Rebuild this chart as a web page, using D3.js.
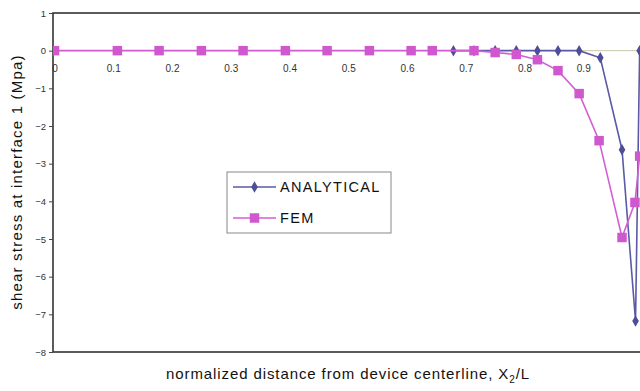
<!DOCTYPE html>
<html><head><meta charset="utf-8">
<script src="https://cdn.jsdelivr.net/npm/d3@7"></script>
<style>
html,body{margin:0;padding:0;background:#fff;}
svg{display:block;font-family:"Liberation Sans",Arial,sans-serif;}
</style></head>
<body><svg id="c" width="640" height="391"></svg>
<script>
// ---- data ----
const xTickLabels = [0, 0.1, 0.2, 0.3, 0.4, 0.5, 0.6, 0.7, 0.8, 0.9];
const yTickValues = [1, 0, -1, -2, -3, -4, -5, -6, -7, -8];
const femX = [0, 0.107, 0.178, 0.25, 0.321, 0.393, 0.464, 0.536, 0.607, 0.643, 0.714, 0.75, 0.786, 0.822, 0.857, 0.893, 0.927, 0.966, 0.988, 0.996];
const femY = [0, 0, 0, 0, 0, 0, 0, 0, 0, 0, 0, -0.05, -0.1, -0.24, -0.53, -1.14, -2.39, -4.96, -4.03, -2.8];
const anaX = [0.679, 0.714, 0.75, 0.786, 0.822, 0.857, 0.893, 0.929, 0.966, 0.989, 0.996];
const anaY = [0, 0, 0, 0, 0, 0, 0, -0.19, -2.63, -7.18, 0];
const seriesNames = ["ANALYTICAL", "FEM"];
const seriesColors = ["#5a5aa6", "#d35ed3"];

(function () {
const svg = d3.select("#c");
const W = 640;
const mL = 53, mT = 13, mB = 352, mR = 700;

const x = d3.scaleLinear().domain([0, 1]).range([54.5, 642]);
const y = d3.scaleLinear().domain([-8, 1]).range([mB, mT]);

// frame
svg.append("rect").attr("x", mL).attr("y", mT).attr("width", mR - mL).attr("height", mB - mT)
  .attr("fill", "#fff").attr("stroke", "#333").attr("stroke-width", 1.6);

// zero axis line
svg.append("line").attr("x1", mL).attr("x2", W).attr("y1", y(0)).attr("y2", y(0))
  .attr("stroke", "#c9c9a8").attr("stroke-width", 1);

// y axis
const ya = svg.append("g").attr("transform", `translate(${mL},0)`)
  .call(d3.axisLeft(y).tickValues(yTickValues).tickSize(4).tickPadding(3).tickFormat(d3.format("d")));
ya.select(".domain").remove();
ya.selectAll("line").attr("stroke", "#444");
ya.selectAll("text").attr("font-size", 9.5).attr("fill", "#333").attr("font-family", "Liberation Sans, Arial, sans-serif");

// x tick labels along zero line
const xa = svg.append("g").attr("transform", `translate(0,${y(0)})`)
  .call(d3.axisBottom(x).tickValues(xTickLabels).tickSize(0).tickPadding(14).tickFormat(d => d === 0 ? "0" : d3.format(".1f")(d)));
xa.select(".domain").remove();
xa.selectAll("text").attr("font-size", 10).attr("fill", "#333").attr("font-family", "Liberation Sans, Arial, sans-serif");

// series
svg.append("clipPath").attr("id", "pc").append("rect")
  .attr("x", mL).attr("y", mT - 6).attr("width", mR - mL).attr("height", mB - mT + 12);
const plot = svg.append("g").attr("clip-path", "url(#pc)");
const line = d3.line().x(d => x(d[0])).y(d => y(d[1]));
const ana = anaX.map((v, i) => [v, anaY[i]]);
const fem = femX.map((v, i) => [v, femY[i]]);

plot.append("path").datum(ana).attr("d", line).attr("fill", "none").attr("stroke", seriesColors[0]).attr("stroke-width", 1.6);
plot.selectAll(".ad").data(ana).enter().append("path")
  .attr("transform", d => `translate(${x(d[0])},${y(d[1])})`)
  .attr("d", d3.symbol(d3.symbolDiamond, 38)).attr("fill", "#4d4d99");

plot.append("path").datum(fem).attr("d", line).attr("fill", "none").attr("stroke", seriesColors[1]).attr("stroke-width", 1.6);
plot.selectAll(".fs").data(fem).enter().append("path")
  .attr("transform", d => `translate(${x(d[0])},${y(d[1])})`)
  .attr("d", d3.symbol(d3.symbolSquare, 90)).attr("fill", "#cf58cf");

// legend
const lg = svg.append("g");
lg.append("rect").attr("x", 227).attr("y", 172).attr("width", 164).attr("height", 61)
  .attr("fill", "#fff").attr("stroke", "#888").attr("stroke-width", 1);
const ly = [187, 218];
seriesNames.forEach((n, i) => {
  lg.append("line").attr("x1", 233).attr("x2", 276).attr("y1", ly[i]).attr("y2", ly[i])
    .attr("stroke", seriesColors[i]).attr("stroke-width", 1.6);
  lg.append("path").attr("transform", `translate(254.5,${ly[i]})`)
    .attr("d", i === 0 ? d3.symbol(d3.symbolDiamond, 38) : d3.symbol(d3.symbolSquare, 90))
    .attr("fill", i === 0 ? "#4d4d99" : "#cf58cf");
  lg.append("text").attr("x", 280).attr("y", ly[i]).attr("dy", "0.36em")
    .attr("font-size", 14.5).attr("letter-spacing", 1.3).attr("fill", "#111").text(n);
});

// axis titles
svg.append("text").attr("transform", `translate(22,182) rotate(-90)`).attr("text-anchor", "middle")
  .attr("font-size", 15).attr("letter-spacing", 1.2).attr("fill", "#111")
  .text("shear stress at interface 1 (Mpa)");

const xt = svg.append("text").attr("x", 348).attr("y", 379).attr("text-anchor", "middle")
  .attr("font-size", 15).attr("letter-spacing", 0.9).attr("fill", "#111");
xt.append("tspan").text("normalized distance from device centerline, X");
xt.append("tspan").attr("font-size", 10).attr("dy", 4).text("2");
xt.append("tspan").attr("dy", -4).text("/L");
})();
</script>
</body></html>
